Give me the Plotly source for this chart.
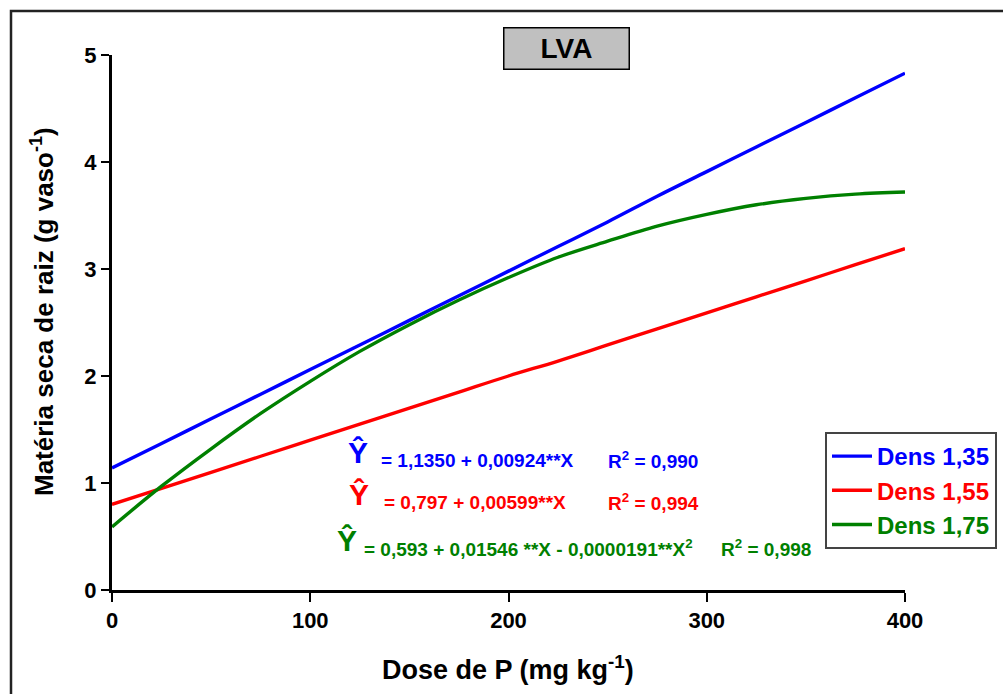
import plotly.graph_objects as go

dose = [0, 25, 50, 75, 100, 125, 150, 175, 200, 225, 250, 275, 300, 325, 350, 375, 400]
dens_135 = [1.14, 1.37, 1.60, 1.83, 2.06, 2.29, 2.52, 2.75, 2.98, 3.21, 3.44, 3.68, 3.91, 4.14, 4.37, 4.60, 4.83]
dens_155 = [0.80, 0.95, 1.10, 1.25, 1.40, 1.55, 1.70, 1.85, 2.00, 2.14, 2.29, 2.44, 2.59, 2.74, 2.89, 3.04, 3.19]
dens_175 = [0.59, 0.97, 1.32, 1.65, 1.95, 2.23, 2.48, 2.71, 2.92, 3.11, 3.26, 3.40, 3.51, 3.60, 3.66, 3.70, 3.72]

series = [
    ("Dens 1,35", dens_135, "#0000ff"),
    ("Dens 1,55", dens_155, "#ff0000"),
    ("Dens 1,75", dens_175, "#008000"),
]

FONT = "Liberation Sans, Arial, sans-serif"
NARROW = "Liberation Sans Narrow, Arial Narrow, Liberation Sans, sans-serif"

fig = go.Figure()
for name, vals, col in series:
    fig.add_trace(go.Scatter(
        x=dose, y=vals, mode="lines", line=dict(color=col, width=3.4, shape="spline"),
        name=f"<span style='color:{col}'><b>{name}</b></span>",
    ))

W, H = 1003, 694
L, R, T, B = 112, 98, 55, 104
pw, ph = W - L - R, H - T - B

def px(x):
    return (x - L) / pw

def py(y):
    return (H - B - y) / ph

fig.update_layout(
    width=W, height=H,
    margin=dict(l=L, r=R, t=T, b=B, autoexpand=False),
    paper_bgcolor="white", plot_bgcolor="white",
    font=dict(family=FONT, size=18, color="black"),
    showlegend=True,
    legend=dict(
        x=px(997), y=py(432), xanchor="right", yanchor="top",
        bordercolor="#444444", borderwidth=2, bgcolor="white",
        font=dict(family=FONT, size=24),
        tracegroupgap=0, itemwidth=40,
    ),
    xaxis=dict(
        range=[0, 400], tickvals=[0, 100, 200, 300, 400],
        ticktext=["<b>0</b>", "<b>100</b>", "<b>200</b>", "<b>300</b>", "<b>400</b>"],
        showline=True, linecolor="black", linewidth=3,
        ticks="outside", ticklen=9, tickwidth=2, tickcolor="black",
        showgrid=False, zeroline=False, automargin=False,
        tickfont=dict(family=NARROW, size=22, color="black"),
    ),
    yaxis=dict(
        range=[0, 5], tickvals=[0, 1, 2, 3, 4, 5],
        ticktext=["<b>0</b>", "<b>1</b>", "<b>2</b>", "<b>3</b>", "<b>4</b>", "<b>5</b>"],
        showline=True, linecolor="black", linewidth=3,
        ticks="outside", ticklen=8, tickwidth=2, tickcolor="black",
        showgrid=False, zeroline=False, automargin=False,
        tickfont=dict(family=FONT, size=22, color="black"),
    ),
)

# outer frame
fig.add_shape(type="rect", xref="paper", yref="paper",
              x0=px(11), x1=px(1010), y0=py(705), y1=py(11),
              line=dict(color="#222222", width=2.5), layer="below")

# title box
fig.add_annotation(x=px(566), y=py(48), xref="paper", yref="paper",
                   text="<b>LVA</b>", showarrow=False,
                   font=dict(family=FONT, size=28, color="black"),
                   bgcolor="#c0c0c0", bordercolor="black", borderwidth=1.5,
                   width=122, height=38, xanchor="center", yanchor="middle")

# axis titles
fig.add_annotation(x=px(42), y=py(312), xref="paper", yref="paper",
                   text="<b>Matéria seca de raiz (g vaso<sup>-1</sup>)</b>",
                   textangle=-90, showarrow=False,
                   font=dict(family=FONT, size=26, color="black"),
                   xanchor="center", yanchor="middle")
fig.add_annotation(x=px(508), y=py(668), xref="paper", yref="paper",
                   text="<b>Dose de P (mg kg<sup>-1</sup>)</b>",
                   showarrow=False,
                   font=dict(family=NARROW, size=27, color="black"),
                   xanchor="center", yanchor="middle")

# equations
eqs = [
    ("#0000ff", 358, 452, 379, "= 1,1350 + 0,00924**X", 606, "R<sup>2</sup> = 0,990"),
    ("#ff0000", 359, 494, 382, "= 0,797 + 0,00599**X", 606, "R<sup>2</sup> = 0,994"),
    ("#008000", 347, 540, 362, "= 0,593 + 0,01546 **X - 0,0000191**X<sup>2</sup>", 719, "R<sup>2</sup> = 0,998"),
]
for col, hx, yy, ex, eq, rx, r2 in eqs:
    fig.add_annotation(x=px(hx), y=py(yy), xref="paper", yref="paper",
                       text="<b>Ŷ</b>", showarrow=False,
                       font=dict(family=FONT, size=30, color=col),
                       xanchor="center", yanchor="middle")
    fig.add_annotation(x=px(ex), y=py(yy + 8), xref="paper", yref="paper",
                       text=f"<b>{eq}</b>", showarrow=False,
                       font=dict(family=FONT, size=19, color=col),
                       xanchor="left", yanchor="middle")
    fig.add_annotation(x=px(rx), y=py(yy + 8), xref="paper", yref="paper",
                       text=f"<b>{r2}</b>", showarrow=False,
                       font=dict(family=FONT, size=19, color=col),
                       xanchor="left", yanchor="middle")

fig.write_html("out.html")
